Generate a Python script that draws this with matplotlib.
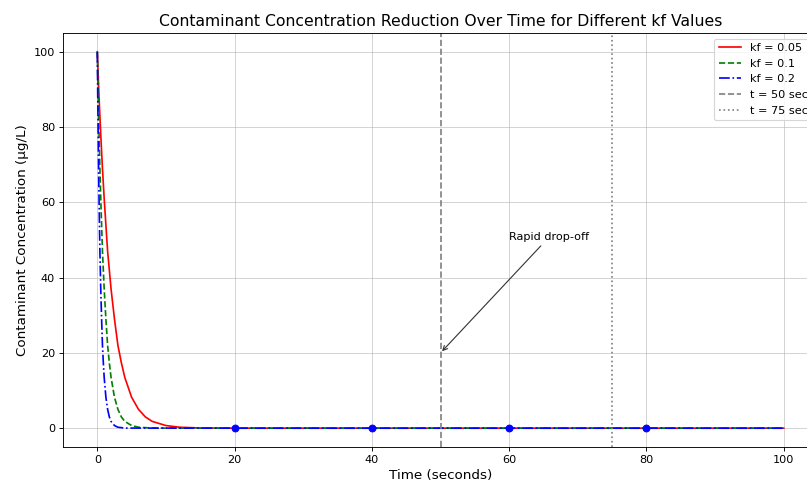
import numpy as np
import matplotlib
matplotlib.use("Agg")
import matplotlib.pyplot as plt

# readings taken off the reference curves (time in s, concentration in ug/L)
t_kf005 = [0, 0.25, 0.5, 0.75, 1, 1.25, 1.5, 2, 2.5, 3, 3.5, 4, 5, 6, 7, 8, 10, 12, 15, 20, 40, 60, 80, 100]
c_kf005 = [100, 88, 78, 69, 61, 54, 47, 37, 29, 22, 17.4, 13.5, 8.2, 5, 3, 1.8, 0.7, 0.25, 0.05, 0, 0, 0, 0, 0]

t_kf01 = [0, 0.125, 0.25, 0.375, 0.5, 0.625, 0.75, 1, 1.25, 1.5, 1.75, 2, 2.5, 3, 3.5, 4, 5, 6, 8, 20, 40, 60, 80, 100]
c_kf01 = [100, 88, 78, 69, 61, 54, 47, 37, 29, 22, 17.4, 13.5, 8.2, 5, 3, 1.8, 0.7, 0.25, 0.03, 0, 0, 0, 0, 0]

t_kf02 = [0, 0.0625, 0.125, 0.1875, 0.25, 0.3125, 0.375, 0.5, 0.625, 0.75, 0.875, 1, 1.25, 1.5, 1.75, 2, 2.5, 3, 4, 20, 40, 60, 80, 100]
c_kf02 = [100, 88, 78, 69, 61, 54, 47, 37, 29, 22, 17.4, 13.5, 8.2, 5, 3, 1.8, 0.7, 0.25, 0.03, 0, 0, 0, 0, 0]

sample_t = [20, 40, 60, 80]
sample_c = [0, 0, 0, 0]

mark_times = [50, 75]

fig = plt.figure(figsize=(10, 483 / 80.7), dpi=80.7)
ax = fig.add_axes([63 / 807, 36 / 483, 755 / 807, 414 / 483])

ax.plot(t_kf005, c_kf005, color='red', linestyle='-', label='kf = 0.05')
ax.plot(t_kf01, c_kf01, color='green', linestyle='--', label='kf = 0.1')
ax.plot(t_kf02, c_kf02, color='blue', linestyle='-.', label='kf = 0.2')
ax.scatter(sample_t, sample_c, color='blue', s=36, zorder=3)

ax.axvline(mark_times[0], color='gray', linestyle='--', label='t = 50 sec')
ax.axvline(mark_times[1], color='gray', linestyle=':', label='t = 75 sec')

ax.annotate('Rapid drop-off', xy=(50, 20), xytext=(60, 50),
            arrowprops=dict(arrowstyle='->', color='#333333'))

ax.set_xlim(-5, 105)
ax.set_ylim(-5, 105)
ax.set_xticks([0, 20, 40, 60, 80, 100])
ax.set_yticks([0, 20, 40, 60, 80, 100])
ax.set_title('Contaminant Concentration Reduction Over Time for Different kf Values', fontsize=14)
ax.set_xlabel('Time (seconds)', fontsize=12)
ax.set_ylabel('Contaminant Concentration (µg/L)', fontsize=12)
ax.grid(True, alpha=0.6)
ax.legend(loc='upper right')

fig.savefig('out.png', dpi=80.7)
